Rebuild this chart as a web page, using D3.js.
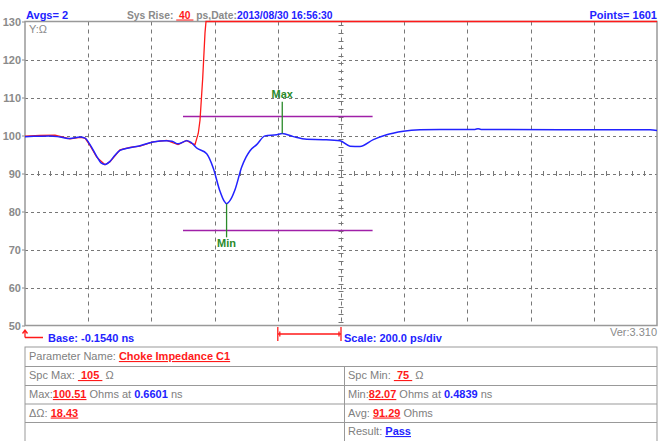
<!DOCTYPE html>
<html><head><meta charset="utf-8">
<script src="https://cdn.jsdelivr.net/npm/d3@7"></script>
<style>
html,body{margin:0;padding:0;background:#fff;}
svg text{font-family:"Liberation Sans",Arial,sans-serif;}
</style></head>
<body><svg id="c" width="667" height="441"></svg>
<script>
// ---- data ----
const yTicks = [50,60,70,80,90,100,110,120,130];
const xDomain = [-0.154, 1.846]; // ns, 200 ps/div
const blueT = [-0.154,-0.1224,-0.0749,-0.0432,-0.0116,0.0201,0.0359,0.0517,0.0729,0.0865,0.0992,0.1150,0.1308,0.1466,0.1783,0.2099,0.2511,0.2944,0.3112,0.3302,0.3577,0.3713,0.3893,0.4210,0.4419,0.4631,0.4757,0.4839,0.4979,0.5105,0.5318,0.5455,0.5581,0.5792,0.6055,0.6425,0.6601,0.6951,0.7375,0.7900,0.8428,0.8745,0.9061,0.9482,0.9906,1.0106,1.0432,1.0960,1.1593,1.2700,1.2796,1.2890,1.5390,1.8240,1.846];
const blueV = [99.7,99.8,99.9,99.6,99.2,99.6,99.3,97.6,94.5,92.8,92.4,93.2,94.8,96.1,96.8,97.3,98.3,98.6,98.5,97.8,98.6,98.2,96.7,95.2,91.4,85.3,82.8,82.07,83.3,85.7,91.7,94.3,96.0,97.6,99.9,100.2,100.51,99.7,99.0,98.9,98.6,97.2,97.1,98.9,100.2,100.6,101.1,101.5,101.6,101.6,101.8,101.6,101.5,101.5,101.3];
const redT = [-0.154,-0.1066,-0.0591,-0.0432,-0.0116,0.0201,0.0359,0.0517,0.0729,0.0992,0.1150,0.1466,0.1783,0.2099,0.2511,0.2944,0.3302,0.3577,0.3713,0.3840,0.3944,0.3998,0.4083,0.4156,0.4188,1.846];
const redV = [99.8,100.0,100.1,99.8,99.1,99.5,99.3,97.4,94.3,92.3,93.1,96.2,96.9,97.2,98.3,98.7,97.6,98.7,98.0,97.6,100.6,104,115,127,130,130];
const specLimits = [105, 75];
const specWindow = [0.346, 0.946];
const markerLabels = ["Max","Min"];
const markerT = [0.6601, 0.4839];
const markerV = [100.51, 82.07];
const markerEnd = [108.9, 73.2];

const svg = d3.select("#c");
const L=25, R=657, T=21.5, B=325.5;
const x = d3.scaleLinear().domain(xDomain).range([L,R]);
const y = d3.scaleLinear().domain([50,130]).range([B,T]);
const blue="#2222ff", gray="#8a8a8a", red="#ff1a1a", green="#2a8a2a", purple="#a020a8";

// gridlines
const xGrid = d3.range(1,10).map(i=>xDomain[0]+i*0.2);
const g = svg.append("g");
g.selectAll(".vg").data(xGrid).enter().append("line")
 .attr("x1",d=>Math.round(x(d))+0.5).attr("x2",d=>Math.round(x(d))+0.5)
 .attr("y1",T).attr("y2",B).attr("stroke","#777").attr("stroke-width",1).attr("stroke-dasharray","4,4");
g.selectAll(".hg").data(yTicks.slice(1,-1)).enter().append("line")
 .attr("y1",d=>Math.round(y(d))+0.5).attr("y2",d=>Math.round(y(d))+0.5)
 .attr("x1",L).attr("x2",R).attr("stroke","#777").attr("stroke-width",1).attr("stroke-dasharray","3,3");
// minor ticks on center lines
const minorX = d3.range(1,50).map(i=>xDomain[0]+i*0.04);
g.selectAll(".mx").data(minorX).enter().append("line")
 .attr("x1",d=>Math.round(x(d))+0.5).attr("x2",d=>Math.round(x(d))+0.5)
 .attr("y1",y(90)-2.5).attr("y2",y(90)+2.5).attr("stroke","#777");
const minorY = d3.range(51,130,2);
g.selectAll(".my").data(minorY).enter().append("line")
 .attr("y1",d=>Math.round(y(d))+0.5).attr("y2",d=>Math.round(y(d))+0.5)
 .attr("x1",x(0.846)-2.5).attr("x2",x(0.846)+2.5).attr("stroke","#777");

// y axis
const yAxis = d3.axisLeft(y).tickValues(yTicks).tickSize(3).tickPadding(1);
const ya = svg.append("g").attr("transform",`translate(${L},0)`).call(yAxis);
ya.select(".domain").remove();
ya.selectAll("line").attr("stroke",gray);
ya.selectAll("text").attr("fill",gray).style("font-size","11px").style("font-weight","bold").attr("font-family","Liberation Sans, Arial, sans-serif");

// frame
svg.append("rect").attr("x",L).attr("y",T).attr("width",R-L).attr("height",B-T)
 .attr("fill","none").attr("stroke","#999").attr("stroke-width",1.5);

// spec lines
specLimits.forEach(v=>{
 svg.append("line").attr("x1",x(specWindow[0])).attr("x2",x(specWindow[1]))
  .attr("y1",y(v)).attr("y2",y(v)).attr("stroke",purple).attr("stroke-width",1.5);
});

const line = d3.line().x(d=>x(d[0])).y(d=>y(d[1]));
svg.append("path").datum(redT.map((t,i)=>[t,redV[i]])).attr("d",line)
 .attr("fill","none").attr("stroke",red).attr("stroke-width",1.3);
svg.append("path").datum(blueT.map((t,i)=>[t,blueV[i]])).attr("d",line.curve(d3.curveMonotoneX))
 .attr("fill","none").attr("stroke",blue).attr("stroke-width",1.5);

// markers
markerLabels.forEach((lab,i)=>{
 svg.append("line").attr("x1",x(markerT[i])).attr("x2",x(markerT[i]))
  .attr("y1",y(markerV[i])).attr("y2",y(markerEnd[i])).attr("stroke",green).attr("stroke-width",1.3);
 const up = markerEnd[i]>markerV[i];
 svg.append("text").attr("x",x(markerT[i])).attr("y",up? y(markerEnd[i])-4 : y(markerEnd[i])+9.5)
  .attr("text-anchor","middle").attr("fill",green).style("font-size","11px").style("font-weight","bold").text(lab);
});

// header
function rich(parent, xx, yy, parts, anchor, fs){
 const t = parent.append("text").attr("x",xx).attr("y",yy).style("font-size",(fs||11)+"px").style("font-weight","bold");
 if(anchor) t.attr("text-anchor",anchor);
 parts.forEach(p=>{
  const s=t.append("tspan").text(p[0]).attr("fill",p[1]);
  if(p[2]) s.attr("text-decoration","underline");
 });
 return t;
}
rich(svg,26,18.5,[["Avgs= 2",blue]]);
rich(svg,127,18.5,[["Sys Rise: ",gray],["\u00a040\u00a0",red,true],[" ps,Date:",gray],["2013/08/30 16:56:30",blue]],null,10.3);
rich(svg,657,18.5,[["Points= 1601",blue]],"end");
svg.append("text").attr("x",29).attr("y",33).attr("fill",gray).style("font-size","11px").text("Y:\u03a9");

// bottom labels
svg.append("path").attr("d",`M${L},337.5 L${L},331 M${L-2.5},333.5 L${L},330 L${L+2.5},333.5 M${L},337.5 L${L+18},337.5`)
 .attr("fill","none").attr("stroke",red).attr("stroke-width",1.3);
rich(svg,48,341.5,[["Base: -0.1540 ns",blue]]);
const s0=x(0.646), s1=x(0.846);
svg.append("path").attr("d",`M${s0},327 L${s0},341 M${s1},327 L${s1},341 M${s0},334 L${s1},334 M${s0+2},331.5 L${s0+2},336.5 M${s1-2},331.5 L${s1-2},336.5`)
 .attr("fill","none").attr("stroke",red).attr("stroke-width",1.3);
rich(svg,s1+3,341.5,[["Scale: 200.0 ps/div",blue]]);
svg.append("text").attr("x",657).attr("y",336).attr("text-anchor","end").attr("fill",gray).style("font-size","11px").text("Ver:3.310");

// table
const rowsY=[347,366,385,403.5,422,441];
const tb=svg.append("g");
tb.append("rect").attr("x",25).attr("y",347).attr("width",632).attr("height",96).attr("fill","none").attr("stroke","#999");
rowsY.slice(1,5).forEach(r=>tb.append("line").attr("x1",25).attr("x2",657).attr("y1",r+0.5).attr("y2",r+0.5).attr("stroke","#999"));
tb.append("line").attr("x1",344.5).attr("x2",344.5).attr("y1",366).attr("y2",441).attr("stroke","#999");
const tg="#808080";
function b(txt,col,u){return [txt,col,u];}
const rowTexts=[
 [[29,[["Parameter Name: ",tg],b("Choke Impedance C1",red,true)]]],
 [[29,[["Spc Max: ",tg],b("\u00a0105\u00a0",red,true),[" \u03a9",tg]]],[348,[["Spc Min: ",tg],b("\u00a075\u00a0",red,true),[" \u03a9",tg]]]],
 [[29,[["Max:",tg],b("100.51",red,true),[" Ohms at ",tg],b("0.6601",blue),[" ns",tg]]],[348,[["Min:",tg],b("82.07",red,true),[" Ohms at ",tg],b("0.4839",blue),[" ns",tg]]]],
 [[29,[["\u0394\u03a9: ",tg],b("18.43",red,true)]],[348,[["Avg: ",tg],b("91.29",red,true),[" Ohms",tg]]]],
 [[348,[["Result: ",tg],b("Pass",blue,true)]]]
];
rowTexts.forEach((cells,ri)=>cells.forEach(c=>{
 const t=tb.append("text").attr("x",c[0]).attr("y",rowsY[ri]+13).style("font-size","11px");
 c[1].forEach(p=>{
  const s=t.append("tspan").text(p[0]).attr("fill",p[1]);
  if(p[1]!==tg) s.style("font-weight","bold");
  if(p[2]) s.attr("text-decoration","underline");
 });
}));
</script></body></html>
